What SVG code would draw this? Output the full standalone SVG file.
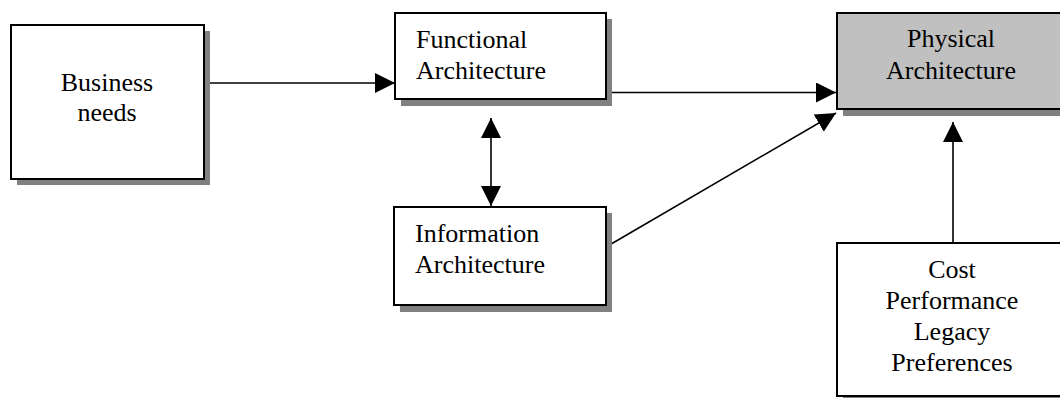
<svg xmlns="http://www.w3.org/2000/svg" width="1060" height="398" viewBox="0 0 1060 398">
<style>
.box{fill:#fff;stroke:#000;stroke-width:2}
.gray{fill:#c0c0c0;stroke:#000;stroke-width:2}
.shadow{fill:#808080}
.t{font-family:'Liberation Serif', 'Times New Roman', Tinos, 'DejaVu Serif', serif;font-size:26px;fill:#000}
.c{text-anchor:middle}
.line{stroke:#000;stroke-width:1.6;fill:none}
</style>
<defs>
<marker id="ah" markerUnits="userSpaceOnUse" markerWidth="20" markerHeight="20" refX="20" refY="10" orient="auto-start-reverse" viewBox="0 0 20 20">
<path d="M0,0 L20,10 L0,20 Z" fill="#000"/>
</marker>
</defs>
<rect width="1060" height="398" fill="#fff"/>
<g id="connectors">
<line class="line" x1="204" y1="83" x2="395" y2="83" marker-end="url(#ah)"/>
<line class="line" x1="491" y1="118" x2="491" y2="206" marker-start="url(#ah)" marker-end="url(#ah)"/>
<line class="line" x1="606" y1="92.5" x2="836" y2="92.5" marker-end="url(#ah)"/>
<line class="line" x1="606" y1="247" x2="836" y2="113" marker-end="url(#ah)"/>
<line class="line" x1="953" y1="243" x2="953" y2="122" marker-end="url(#ah)"/>
</g>
<g id="business">
<rect class="shadow" x="17" y="31" width="193" height="154"/>
<rect class="box" x="11" y="25" width="193" height="154"/>
<text class="t c" x="107" y="91" font-family="Liberation Serif, serif">Business</text>
<text class="t c" x="107" y="121" font-family="Liberation Serif, serif">needs</text>
</g>
<g id="functional">
<rect class="shadow" x="401" y="19" width="211" height="87"/>
<rect class="box" x="395" y="13" width="211" height="86"/>
<text class="t" x="416" y="48">Functional</text>
<text class="t" x="416" y="79">Architecture</text>
</g>
<g id="information">
<rect class="shadow" x="400" y="213" width="212" height="99"/>
<rect class="box" x="394" y="207" width="212" height="98"/>
<text class="t" x="415" y="242">Information</text>
<text class="t" x="415" y="273">Architecture</text>
</g>
<g id="physical">
<rect class="shadow" x="843" y="20" width="230" height="96"/>
<rect class="gray" x="837" y="13" width="230" height="96"/>
<text class="t c" x="951" y="47">Physical</text>
<text class="t c" x="951" y="79">Architecture</text>
</g>
<g id="constraints">
<rect class="shadow" x="843" y="249" width="230" height="154"/>
<rect class="box" x="837" y="243" width="230" height="153"/>
<text class="t c" x="952" y="278">Cost</text>
<text class="t c" x="952" y="309">Performance</text>
<text class="t c" x="952" y="340">Legacy</text>
<text class="t c" x="952" y="371">Preferences</text>
</g>
</svg>
